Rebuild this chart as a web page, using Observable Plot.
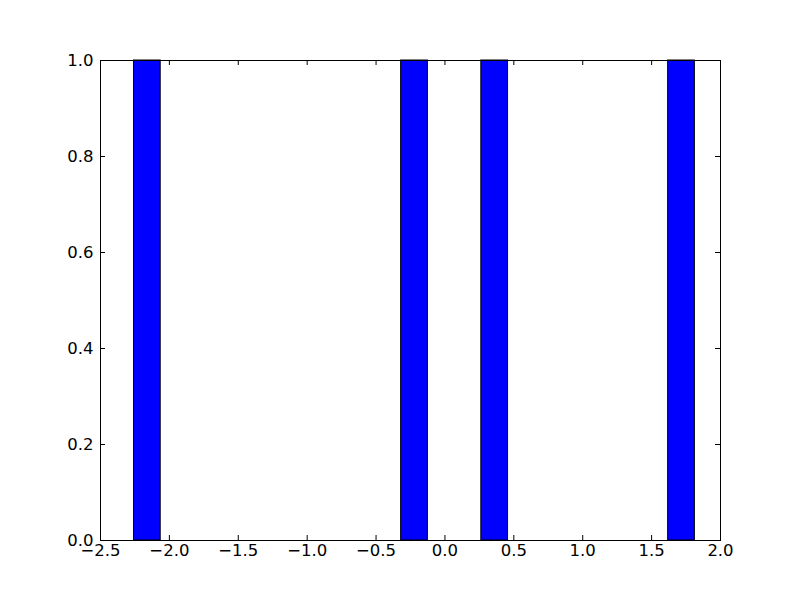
<!DOCTYPE html>
<html>
<head>
<meta charset="utf-8">
<script src="https://cdn.jsdelivr.net/npm/d3@7"></script>
<script src="https://cdn.jsdelivr.net/npm/@observablehq/plot@0.6"></script>
<style>
  html, body { margin: 0; padding: 0; background: #fff; }
  #chart svg { display: block; }
</style>
</head>
<body>
<div id="chart"></div>
<script>
// Histogram bins (left edge, right edge, count)
const binStart = [-2.257, -0.318, 0.264, 1.620];
const binEnd   = [-2.063, -0.124, 0.458, 1.814];
const counts   = [1, 1, 1, 1];

const xTicks = [-2.5, -2.0, -1.5, -1.0, -0.5, 0.0, 0.5, 1.0, 1.5, 2.0];
const yTicks = [0.0, 0.2, 0.4, 0.6, 0.8, 1.0];

const bars = binStart.map((s, i) => ({x1: s, x2: binEnd[i], y: counts[i]}));
const fmt = d3.format(".1f");

const chart = Plot.plot({
  width: 800,
  height: 600,
  marginLeft: 100,
  marginRight: 80,
  marginTop: 60,
  marginBottom: 60,
  style: {fontFamily: "DejaVu Sans", fontSize: "16.5px", color: "black", background: "white"},
  x: {domain: [-2.5, 2.0]},
  y: {domain: [0, 1]},
  marks: [
    Plot.rectY(bars, {x1: "x1", x2: "x2", y: "y", fill: "#0000ff", stroke: "black", strokeWidth: 1}),
    // inward ticks: bottom & top
    Plot.ruleX(xTicks, {x: d => d, y1: 0, y2: 0, insetBottom: 5, stroke: "black"}),
    Plot.ruleX(xTicks, {x: d => d, y1: 1, y2: 1, insetTop: 5, stroke: "black"}),
    // inward ticks: left & right
    Plot.ruleY(yTicks, {y: d => d, x1: -2.5, x2: -2.5, insetLeft: 5, stroke: "black"}),
    Plot.ruleY(yTicks, {y: d => d, x1: 2.0, x2: 2.0, insetRight: 5, stroke: "black"}),
    Plot.axisX(xTicks, {anchor: "bottom", tickSize: 0, tickPadding: 4, tickFormat: fmt, label: null}),
    Plot.axisY(yTicks, {anchor: "left", tickSize: 0, tickPadding: 7, tickFormat: fmt, label: null}),
    Plot.frame({stroke: "black", strokeWidth: 1})
  ]
});
document.getElementById("chart").appendChild(chart);
</script>
</body>
</html>
